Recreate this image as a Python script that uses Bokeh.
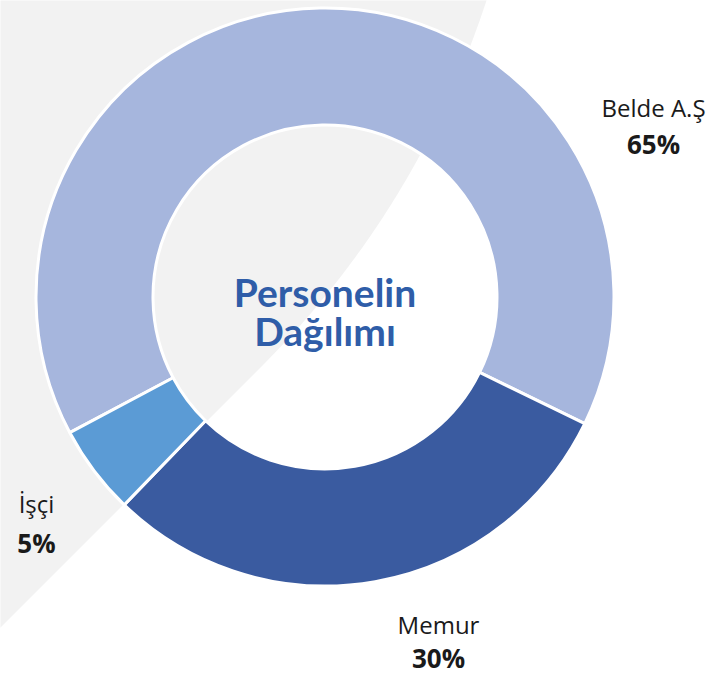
import numpy as np
from bokeh.plotting import figure
from bokeh.models import Range1d, ColumnDataSource
from bokeh.core.properties import value
from bokeh.embed import file_html
from bokeh.resources import INLINE

# ---------------- data ----------------
categories = ["Belde A.Ş", "Memur", "İşçi"]
shares = [65, 30, 5]
colors = ["#A6B6DD", "#3A5BA0", "#5B9BD5"]
title_lines = ["Personelin", "Dağılımı"]

# ---------------- layout (page pixel coordinates, y down) ----------------
W, H = 725, 675
CX, CY = 324.5, 296.5
R_OUT, R_IN = 289, 172
START_DEG = 208.0
label_x = [653, 438, 36]
label_name_y = [107, 624, 503]
label_pct_y = [143, 657, 542]
LABEL_FONT = "Open Sans"
TITLE_FONT = "Lato"


def fy(y):
    return H - np.asarray(y, dtype=float)


p = figure(width=W, height=H,
           x_range=Range1d(0, W), y_range=Range1d(0, H),
           output_backend="svg", toolbar_location=None, min_border=0,
           outline_line_color=None, background_fill_color="white",
           border_fill_color="white")
p.axis.visible = False
p.grid.visible = False

# ---------------- decorative grey band (quadratic curve + straight edge) ----------------
t = np.linspace(0, 1, 80)
P0 = np.array([486.0, 0.0])
C1 = np.array([417.0, 210.0])
P2 = np.array([261.0, 366.0])
curve = ((1 - t) ** 2)[:, None] * P0 + (2 * (1 - t) * t)[:, None] * C1 + (t ** 2)[:, None] * P2
bx = np.concatenate([[-20, 486 + 6.6], curve[:, 0], [-20]])
by = np.concatenate([[-20, -20], curve[:, 1], [627 + 20]])
p.patch(bx, fy(by), fill_color="#F2F2F2", line_color=None)

# ---------------- donut ----------------
frac = np.array(shares, dtype=float) / np.sum(shares)
cum = np.concatenate([[0], np.cumsum(frac)])
start = np.radians(START_DEG) - cum[:-1] * 2 * np.pi
end = np.radians(START_DEG) - cum[1:] * 2 * np.pi
src = ColumnDataSource(dict(cat=categories, share=shares, color=colors,
                            start=start, end=end,
                            x=[CX] * len(shares), y=list(fy([CY] * len(shares)))))
p.annular_wedge(x="x", y="y", inner_radius=R_IN, outer_radius=R_OUT,
                start_angle="start", end_angle="end", direction="clock",
                fill_color="color", line_color="white", line_width=3, source=src)

# ---------------- labels ----------------
lab = ColumnDataSource(dict(x=label_x, yn=list(fy(label_name_y)), yp=list(fy(label_pct_y)),
                            name=categories, pct=[f"{s}%" for s in shares]))
p.text(x="x", y="yn", text="name", source=lab, text_align="center",
       text_baseline="alphabetic", text_font=value(LABEL_FONT),
       text_font_size="24px", text_color="#1A1A1A")
p.text(x="x", y="yp", text="pct", source=lab, text_align="center",
       text_baseline="alphabetic", text_font=value(LABEL_FONT),
       text_font_size="26px", text_font_style="bold", text_color="#1A1A1A")

# ---------------- centre title ----------------
p.text(x=[CX, CX], y=list(fy([CY - 5, CY + 34])), text=title_lines,
       text_align="center", text_baseline="alphabetic", text_font=value(TITLE_FONT),
       text_font_size="39px", text_font_style="bold", text_color="#2F5DA8")

open("out.html", "w").write(file_html(p, INLINE))
